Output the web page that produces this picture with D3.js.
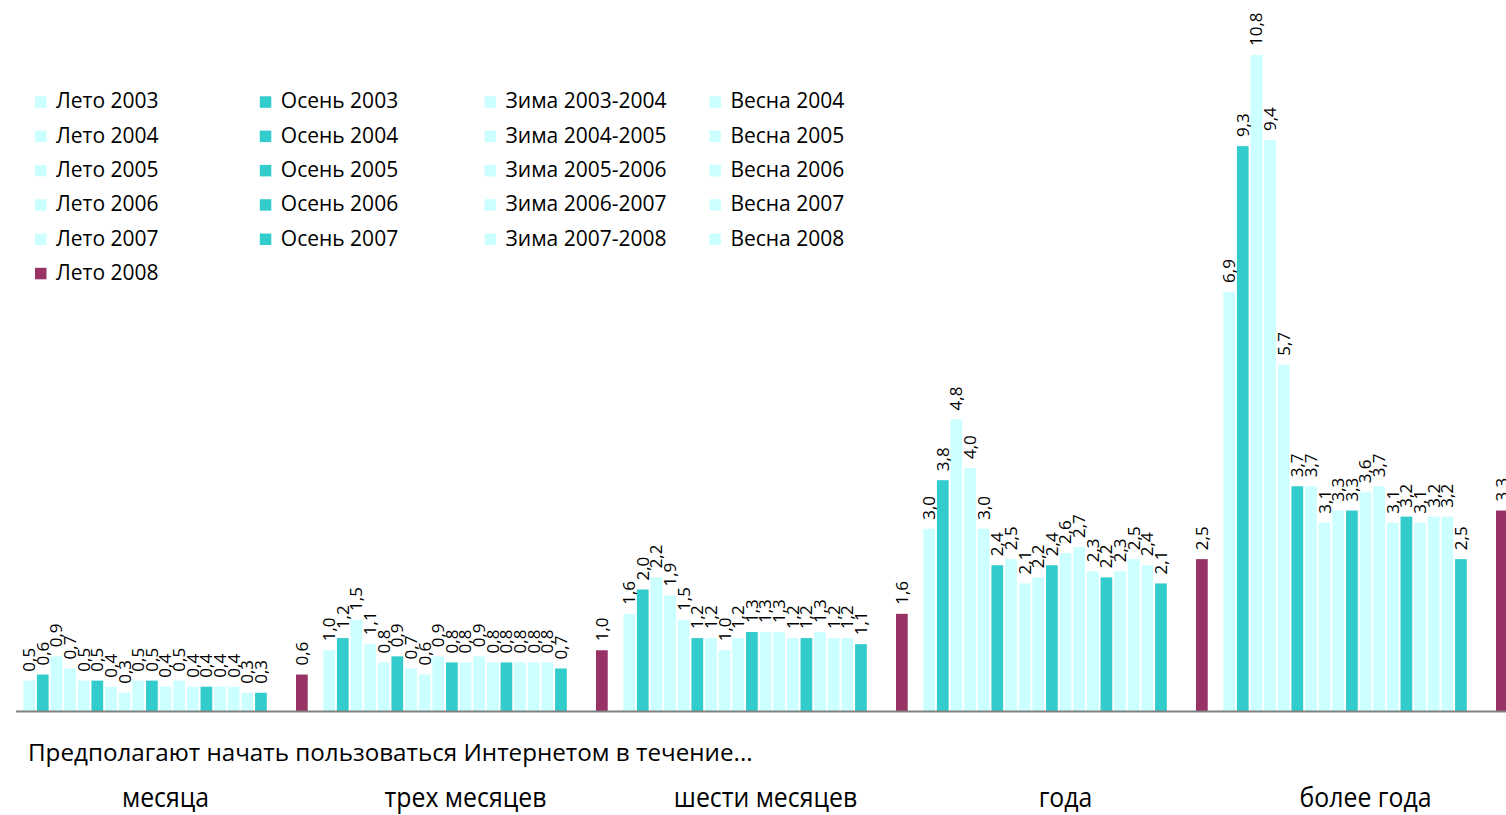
<!DOCTYPE html>
<html>
<head>
<meta charset="utf-8">
<script src="https://cdn.jsdelivr.net/npm/d3@7"></script>
<style>
  body { margin: 0; background: #fff; }
  svg { display: block; font-family: 'Open Sans', sans-serif; }
</style>
</head>
<body>
<svg id="chart" width="1506" height="815"></svg>
<script>
// categories along the x axis
const groups = ['месяца', 'трех месяцев', 'шести месяцев', 'года', 'более года'];

// survey waves (legend order = bar order inside each group)
const seasons = [
  'Лето 2003', 'Осень 2003', 'Зима 2003-2004', 'Весна 2004',
  'Лето 2004', 'Осень 2004', 'Зима 2004-2005', 'Весна 2005',
  'Лето 2005', 'Осень 2005', 'Зима 2005-2006', 'Весна 2006',
  'Лето 2006', 'Осень 2006', 'Зима 2006-2007', 'Весна 2007',
  'Лето 2007', 'Осень 2007', 'Зима 2007-2008', 'Весна 2008',
  'Лето 2008'
];

// values per group, one per season (null = no bar)
const inMonth      = [0.5, 0.6, 0.9, 0.7, 0.5, 0.5, 0.4, 0.3, 0.5, 0.5, 0.4, 0.5, 0.4, 0.4, 0.4, 0.4, 0.3, 0.3, null, null, 0.6];
const inThreeMonth = [1.0, 1.2, 1.5, 1.1, 0.8, 0.9, 0.7, 0.6, 0.9, 0.8, 0.8, 0.9, 0.8, 0.8, 0.8, 0.8, 0.8, 0.7, null, null, 1.0];
const inSixMonth   = [1.6, 2.0, 2.2, 1.9, 1.5, 1.2, 1.2, 1.0, 1.2, 1.3, 1.3, 1.3, 1.2, 1.2, 1.3, 1.2, 1.2, 1.1, null, null, 1.6];
const inYear       = [3.0, 3.8, 4.8, 4.0, 3.0, 2.4, 2.5, 2.1, 2.2, 2.4, 2.6, 2.7, 2.3, 2.2, 2.3, 2.5, 2.4, 2.1, null, null, 2.5];
const overYear     = [6.9, 9.3, 10.8, 9.4, 5.7, 3.7, 3.7, 3.1, 3.3, 3.3, 3.6, 3.7, 3.1, 3.2, 3.1, 3.2, 3.2, 2.5, null, null, 3.3];

const caption = 'Предполагают начать пользоваться Интернетом в течение...';

const seriesByGroup = [inMonth, inThreeMonth, inSixMonth, inYear, overYear];

const colourOf = name => {
	if (name === 'Лето 2008') return '#993366';
	if (name.startsWith('Осень')) return '#33cccc';
	return '#ccffff';
};

const svg = d3.select('#chart');
const baseY = 711;

const x0 = d3.scaleBand().domain(groups).range([15.5, 1515.5]).paddingInner(0);
const x1 = d3
	.scaleBand()
	.domain(seasons)
	.range([0, x0.bandwidth()])
	.paddingInner(0.14)
	.paddingOuter(0.57);
const y = d3.scaleLinear().domain([0, 10.8]).range([baseY, 55]);

// flatten into one record per bar
const bars = [];
groups.forEach((g, gi) => {
	seasons.forEach((s, si) => {
		const v = seriesByGroup[gi][si];
		if (v !== null) bars.push({ group: g, season: s, value: v });
	});
});

const plot = svg.append('g');

plot
	.selectAll('rect.bar')
	.data(bars)
	.enter()
	.append('rect')
	.attr('class', 'bar')
	.attr('x', d => x0(d.group) + x1(d.season))
	.attr('y', d => y(d.value))
	.attr('width', x1.bandwidth())
	.attr('height', d => baseY - y(d.value))
	.attr('fill', d => colourOf(d.season));

// value labels, rotated
plot
	.selectAll('text.val')
	.data(bars)
	.enter()
	.append('text')
	.attr('class', 'val')
	.attr('transform', d => {
		const cx = x0(d.group) + x1(d.season) + x1.bandwidth() / 2;
		return `translate(${cx},${y(d.value) - 9}) rotate(-90)`;
	})
	.attr('dy', '0.35em')
	.style('font-size', '17px')
	.attr('fill', '#000')
	.text(d => d3.format('.1f')(d.value).replace('.', ','));

// axis with group names well below the line
const xAxis = d3.axisBottom(x0).tickSize(0).tickSizeOuter(0);
const axisG = svg
	.append('g')
	.attr('transform', `translate(0,${baseY})`)
	.call(xAxis);
axisG.select('.domain').attr('stroke', '#808080').attr('stroke-width', 2);
axisG
	.selectAll('text')
	.style('font-family', "'Open Sans', sans-serif")
	.style('font-size', '27px')
	.attr('fill', '#000')
	.attr('dy', '0')
	.attr('y', 96)
	.attr('transform', 'scale(0.92,1)');

// caption, squeezed to the reference width
const cap = svg
	.append('text')
	.style('font-size', '24px')
	.text(caption);
const capScale = 725 / cap.node().getComputedTextLength();
cap.attr('transform', `translate(28,761) scale(${capScale},1)`);

// legend, four columns filled row by row
const legend = svg
	.append('g')
	.selectAll('g')
	.data(seasons)
	.enter()
	.append('g')
	.attr('transform', (d, i) => `translate(${35 + (i % 4) * 224.8},${108.3 + Math.floor(i / 4) * 34.3})`);

legend
	.append('rect')
	.attr('x', 0)
	.attr('y', -12)
	.attr('width', 11.5)
	.attr('height', 11.5)
	.attr('fill', d => colourOf(d));

legend
	.append('text')
	.attr('x', 21)
	.attr('y', 0)
	.style('font-size', '21px')
	.text(d => d);
</script>
</body>
</html>
